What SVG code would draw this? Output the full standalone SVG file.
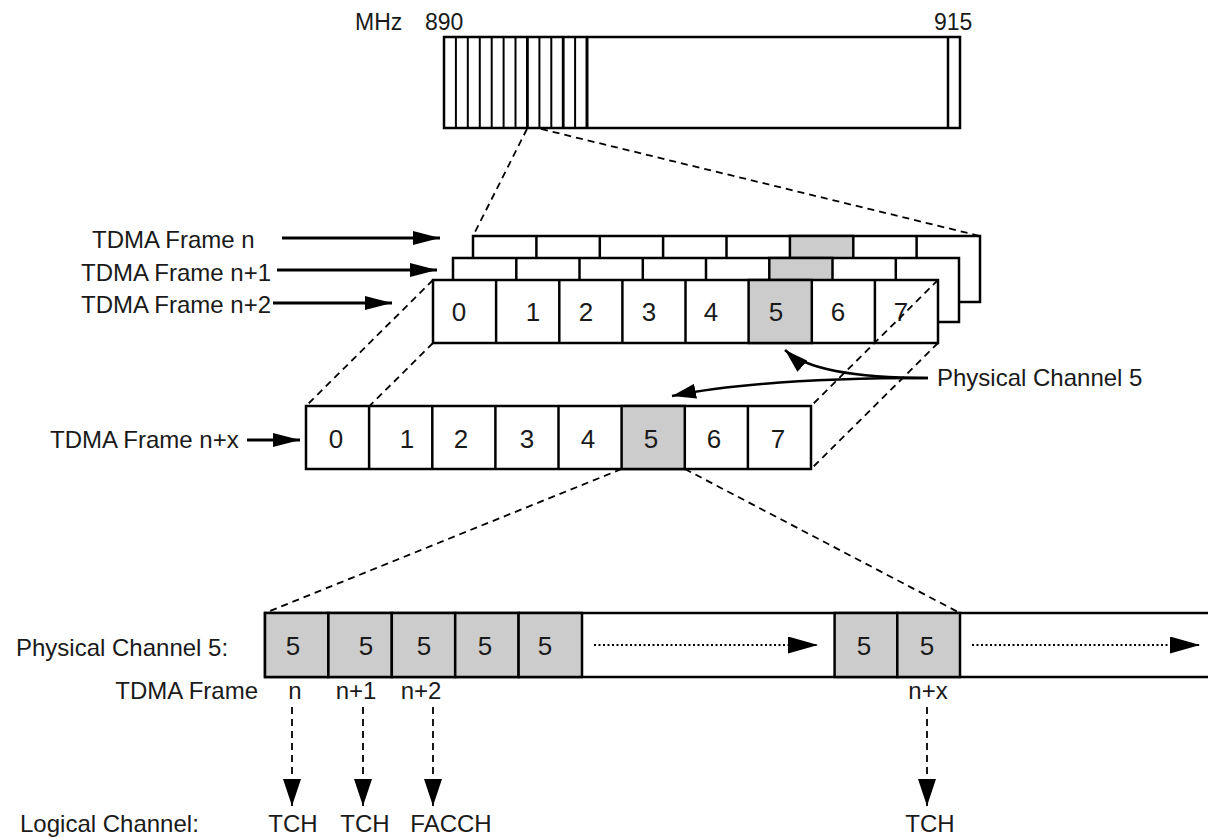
<svg xmlns="http://www.w3.org/2000/svg" width="1208" height="838" viewBox="0 0 1208 838">
<defs>
<style>
text{font-family:"Liberation Sans",Arial,sans-serif;fill:#1a1a1a}
.lbl{font-size:24px}
.sm{font-size:23px}
.num{font-size:26px;text-anchor:middle}
.mid{text-anchor:middle}
.box{fill:#fff;stroke:#000;stroke-width:2.5}
.gray{fill:#ccc;stroke:#000;stroke-width:2.5}
.div{stroke:#000;stroke-width:2.5}
.thin{stroke:#000;stroke-width:2}
.dash{fill:none;stroke:#000;stroke-width:1.8;stroke-dasharray:7 5}
.arr{fill:none;stroke:#000;stroke-width:3}
.curve{fill:none;stroke:#000;stroke-width:2.5}
.dot{fill:none;stroke:#000;stroke-width:2.2;stroke-dasharray:2 2.5}
</style>
<marker id="ah" viewBox="0 0 10 10" refX="10" refY="5" markerUnits="userSpaceOnUse" markerWidth="27" markerHeight="14" orient="auto" preserveAspectRatio="none"><path d="M0,0 L10,5 L0,10 z" fill="#000"/></marker>
<marker id="ahc" viewBox="0 0 10 10" refX="10" refY="5" markerUnits="userSpaceOnUse" markerWidth="24" markerHeight="15" orient="auto" preserveAspectRatio="none"><path d="M0,0 L10,5 L0,10 z" fill="#000"/></marker>
<marker id="ahd" viewBox="0 0 10 10" refX="10" refY="5" markerUnits="userSpaceOnUse" markerWidth="27" markerHeight="18" orient="auto" preserveAspectRatio="none"><path d="M0,0 L10,5 L0,10 z" fill="#000"/></marker>
<marker id="ahdot" viewBox="0 0 10 10" refX="10" refY="5" markerUnits="userSpaceOnUse" markerWidth="30" markerHeight="17" orient="auto" preserveAspectRatio="none"><path d="M0,0 L10,5 L0,10 z" fill="#000"/></marker>
</defs>
<rect width="1208" height="838" fill="#fff"/>

<g id="band">
<text class="sm" x="355" y="30">MHz</text>
<text class="sm" x="425" y="30">890</text>
<text class="sm" x="934" y="30">915</text>
<rect class="box" x="444" y="37" width="516" height="91"/>
<g class="thin">
<line x1="455.9" y1="37" x2="455.9" y2="128"/><line x1="467.8" y1="37" x2="467.8" y2="128"/>
<line x1="479.8" y1="37" x2="479.8" y2="128"/><line x1="491.7" y1="37" x2="491.7" y2="128"/>
<line x1="503.6" y1="37" x2="503.6" y2="128"/><line x1="515.5" y1="37" x2="515.5" y2="128"/>
<line x1="527.4" y1="37" x2="527.4" y2="128" stroke-width="2.8"/><line x1="539.4" y1="37" x2="539.4" y2="128"/>
<line x1="551.3" y1="37" x2="551.3" y2="128"/><line x1="563.2" y1="37" x2="563.2" y2="128" stroke-width="2.8"/>
<line x1="575.1" y1="37" x2="575.1" y2="128"/><line x1="587" y1="37" x2="587" y2="128" stroke-width="3"/>
<line x1="948" y1="37" x2="948" y2="128" stroke-width="2.5"/>
</g>
</g>

<g id="frame-n">
<rect class="box" x="473" y="236" width="507" height="66"/>
<rect class="gray" x="789.9" y="236" width="63.4" height="66"/>
<g class="div">
<line x1="536.4" y1="236" x2="536.4" y2="302"/><line x1="599.8" y1="236" x2="599.8" y2="302"/>
<line x1="663.1" y1="236" x2="663.1" y2="302"/><line x1="726.5" y1="236" x2="726.5" y2="302"/>
<line x1="916.6" y1="236" x2="916.6" y2="302"/>
</g>
</g>

<g id="frame-n1">
<rect class="box" x="453" y="258" width="506" height="64"/>
<rect class="gray" x="769.3" y="258" width="63.2" height="64"/>
<g class="div">
<line x1="516.3" y1="258" x2="516.3" y2="322"/><line x1="579.5" y1="258" x2="579.5" y2="322"/>
<line x1="642.8" y1="258" x2="642.8" y2="322"/><line x1="706" y1="258" x2="706" y2="322"/>
<line x1="895.8" y1="258" x2="895.8" y2="322"/>
</g>
</g>

<g id="frame-n2">
<rect class="box" x="433" y="280" width="505" height="63"/>
<rect class="gray" x="748.6" y="280" width="63.2" height="63"/>
<g class="div">
<line x1="496.1" y1="280" x2="496.1" y2="343"/><line x1="559.3" y1="280" x2="559.3" y2="343"/>
<line x1="622.4" y1="280" x2="622.4" y2="343"/><line x1="685.5" y1="280" x2="685.5" y2="343"/>
<line x1="874.9" y1="280" x2="874.9" y2="343"/>
</g>
<text class="num" x="459" y="321">0</text>
<text class="num" x="533" y="321">1</text>
<text class="num" x="586" y="321">2</text>
<text class="num" x="649" y="321">3</text>
<text class="num" x="711" y="321">4</text>
<text class="num" x="776" y="321">5</text>
<text class="num" x="838" y="321">6</text>
<text class="num" x="901" y="321">7</text>
</g>

<g id="connectors">
<line class="dash" x1="527" y1="129" x2="473" y2="236"/>
<line class="dash" x1="541" y1="129" x2="980" y2="236"/>
<line class="dash" x1="433" y1="280" x2="306" y2="406"/>
<line class="dash" x1="433" y1="343" x2="306" y2="469"/>
<line class="dash" x1="938" y1="280" x2="811" y2="406"/>
<line class="dash" x1="938" y1="343" x2="811" y2="469"/>
<line class="dash" x1="621.6" y1="469" x2="265" y2="613"/>
<line class="dash" x1="684.8" y1="469" x2="960" y2="613"/>
<line class="arr" x1="282" y1="238" x2="440" y2="238" marker-end="url(#ah)"/>
<line class="arr" x1="277" y1="270" x2="437" y2="270" marker-end="url(#ah)"/>
<line class="arr" x1="273" y1="303" x2="392" y2="303" marker-end="url(#ah)"/>
<line class="arr" x1="247" y1="440" x2="300" y2="440" marker-end="url(#ah)"/>
<path class="curve" d="M 928 378 Q 815 378 785 350" marker-end="url(#ahc)"/>
<path class="curve" d="M 928 378 Q 760 378 672 396" marker-end="url(#ahc)"/>
<line class="dash" x1="292" y1="707" x2="292" y2="806" marker-end="url(#ahd)"/>
<line class="dash" x1="363" y1="707" x2="363" y2="806" marker-end="url(#ahd)"/>
<line class="dash" x1="433" y1="707" x2="433" y2="806" marker-end="url(#ahd)"/>
<line class="dash" x1="927" y1="707" x2="927" y2="806" marker-end="url(#ahd)"/>
</g>

<g id="frame-nx">
<rect class="box" x="306" y="406" width="505" height="63"/>
<rect class="gray" x="621.6" y="406" width="63.2" height="63"/>
<g class="div">
<line x1="369.1" y1="406" x2="369.1" y2="469"/><line x1="432.3" y1="406" x2="432.3" y2="469"/>
<line x1="495.4" y1="406" x2="495.4" y2="469"/><line x1="558.5" y1="406" x2="558.5" y2="469"/>
<line x1="747.9" y1="406" x2="747.9" y2="469"/>
</g>
<text class="num" x="336" y="448">0</text>
<text class="num" x="407" y="448">1</text>
<text class="num" x="461" y="448">2</text>
<text class="num" x="527" y="448">3</text>
<text class="num" x="588" y="448">4</text>
<text class="num" x="651" y="448">5</text>
<text class="num" x="714" y="448">6</text>
<text class="num" x="778" y="448">7</text>
</g>

<g id="channel-row">
<rect class="box" x="265" y="613" width="970" height="64"/>
<rect class="gray" x="265" y="613" width="63.4" height="64"/>
<rect class="gray" x="328.4" y="613" width="63.4" height="64"/>
<rect class="gray" x="391.8" y="613" width="63.4" height="64"/>
<rect class="gray" x="455.2" y="613" width="63.4" height="64"/>
<rect class="gray" x="518.6" y="613" width="63.4" height="64"/>
<rect class="gray" x="834.6" y="613" width="62.7" height="64"/>
<rect class="gray" x="897.3" y="613" width="62.7" height="64"/>
<text class="num" x="293" y="655">5</text>
<text class="num" x="366" y="655">5</text>
<text class="num" x="424" y="655">5</text>
<text class="num" x="485" y="655">5</text>
<text class="num" x="545" y="655">5</text>
<text class="num" x="864" y="655">5</text>
<text class="num" x="927" y="655">5</text>
<line class="dot" x1="594" y1="645" x2="818" y2="645" marker-end="url(#ahdot)"/>
<line class="dot" x1="972" y1="645" x2="1200" y2="645" marker-end="url(#ahdot)"/>
</g>

<g id="labels">
<text class="lbl" x="92" y="248">TDMA Frame n</text>
<text class="lbl" x="81" y="281">TDMA Frame n+1</text>
<text class="lbl" x="81" y="313">TDMA Frame n+2</text>
<text class="lbl" x="50" y="448">TDMA Frame n+x</text>
<text class="lbl" x="937" y="386">Physical Channel 5</text>
<text class="lbl" x="16" y="656">Physical Channel 5:</text>
<text class="lbl" x="258" y="699" text-anchor="end">TDMA Frame</text>
<text class="lbl mid" x="295" y="699">n</text>
<text class="lbl mid" x="356" y="699">n+1</text>
<text class="lbl mid" x="421" y="699">n+2</text>
<text class="lbl mid" x="928" y="699">n+x</text>
<text class="lbl" x="20" y="832">Logical Channel:</text>
<text class="lbl mid" x="293" y="832">TCH</text>
<text class="lbl mid" x="365" y="832">TCH</text>
<text class="lbl mid" x="451" y="832">FACCH</text>
<text class="lbl mid" x="930" y="832">TCH</text>
</g>
</svg>
